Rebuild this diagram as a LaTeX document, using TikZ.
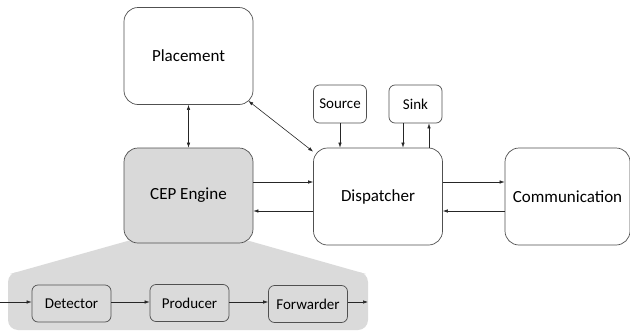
\documentclass[tikz,border=0pt]{standalone}
\usepackage{fontspec}
\setmainfont{Carlito}
\usepackage{tikz}
\usetikzlibrary{arrows.meta}

\definecolor{boxline}{HTML}{505050}
\definecolor{cepgray}{HTML}{D9D9D9}
\definecolor{panelgray}{HTML}{DADADA}

\tikzset{
  bigbox/.style={draw=boxline, line width=0.7pt, rounded corners=14pt, fill=white,
    minimum width=129pt, minimum height=97pt, font=\fontsize{17}{20}\selectfont},
  smallbox/.style={draw=boxline, line width=0.7pt, rounded corners=6pt, fill=white,
    minimum width=53pt, minimum height=38pt, font=\fontsize{15}{18}\selectfont},
  stagebox/.style={smallbox, fill=panelgray, minimum width=79pt, minimum height=37pt},
  link/.style={line width=0.6pt, black!85, -{Latex[length=5pt,width=3.5pt]}},
  twoway/.style={link, {Latex[length=5pt,width=3.5pt]}-{Latex[length=5pt,width=3.5pt]}}
}

\begin{document}
\begin{tikzpicture}[x=1pt,y=-1pt]
            \useasboundingbox (0,0) rectangle (630,335);

            % zoom of the engine
            \fill[panelgray] (131,240) -- (246,240) -- (366,274) -- (10,274) -- cycle;
            \fill[panelgray, rounded corners=10pt] (8,272) rectangle (368,330);

            \node[bigbox] (place) at (188.5,56) {Placement};
            \node[bigbox, fill=cepgray, minimum height=95pt] (cep) at (188.5,195.5) {CEP Engine};
            \node[bigbox] (disp) at (378,196.5) {Dispatcher};
            \node[bigbox, minimum width=125pt] (comm) at (567.5,196.5) {Communication};
            \node[smallbox] (src) at (340,104) {Source};
            \node[smallbox] (sink) at (415.5,104) {Sink};

            \node[stagebox] (det) at (71.5,303.5) {Detector};
            \node[stagebox] (prod) at (189.5,303) {Producer};
            \node[stagebox] (fwd) at (308,304) {Forwarder};
            \coordinate (in) at (0,302);
            \coordinate (out) at (368,302);

            \draw[twoway] (place.south) -- (cep.north);
            \draw[twoway] ([shift={(-5,-4)}]place.south east) -- ([shift={(0,4)}]disp.north west);

            \draw[link] (cep.east |- 0,182) -- (disp.west |- 0,182);
            \draw[link] (disp.west |- 0,211) -- (cep.east |- 0,211);
            \draw[link] (disp.east |- 0,182) -- (comm.west |- 0,182);
            \draw[link] (comm.west |- 0,211) -- (disp.east |- 0,211);

            \draw[link] (src.south) -- (src.south |- disp.north);
            \draw[link] ([xshift=-12.5pt]sink.south) -- ([xshift=-12.5pt]sink.south |- disp.north);
            \draw[link] ([xshift=13.5pt]sink.south |- disp.north) -- ([xshift=13.5pt]sink.south);

            \draw[link] (in) -- (det.west |- in);
            \draw[link] (det.east |- in) -- (prod.west |- in);
            \draw[link] (prod.east |- in) -- (fwd.west |- in);
            \draw[link] (fwd.east |- out) -- (out);
        \end{tikzpicture}
\end{document}
